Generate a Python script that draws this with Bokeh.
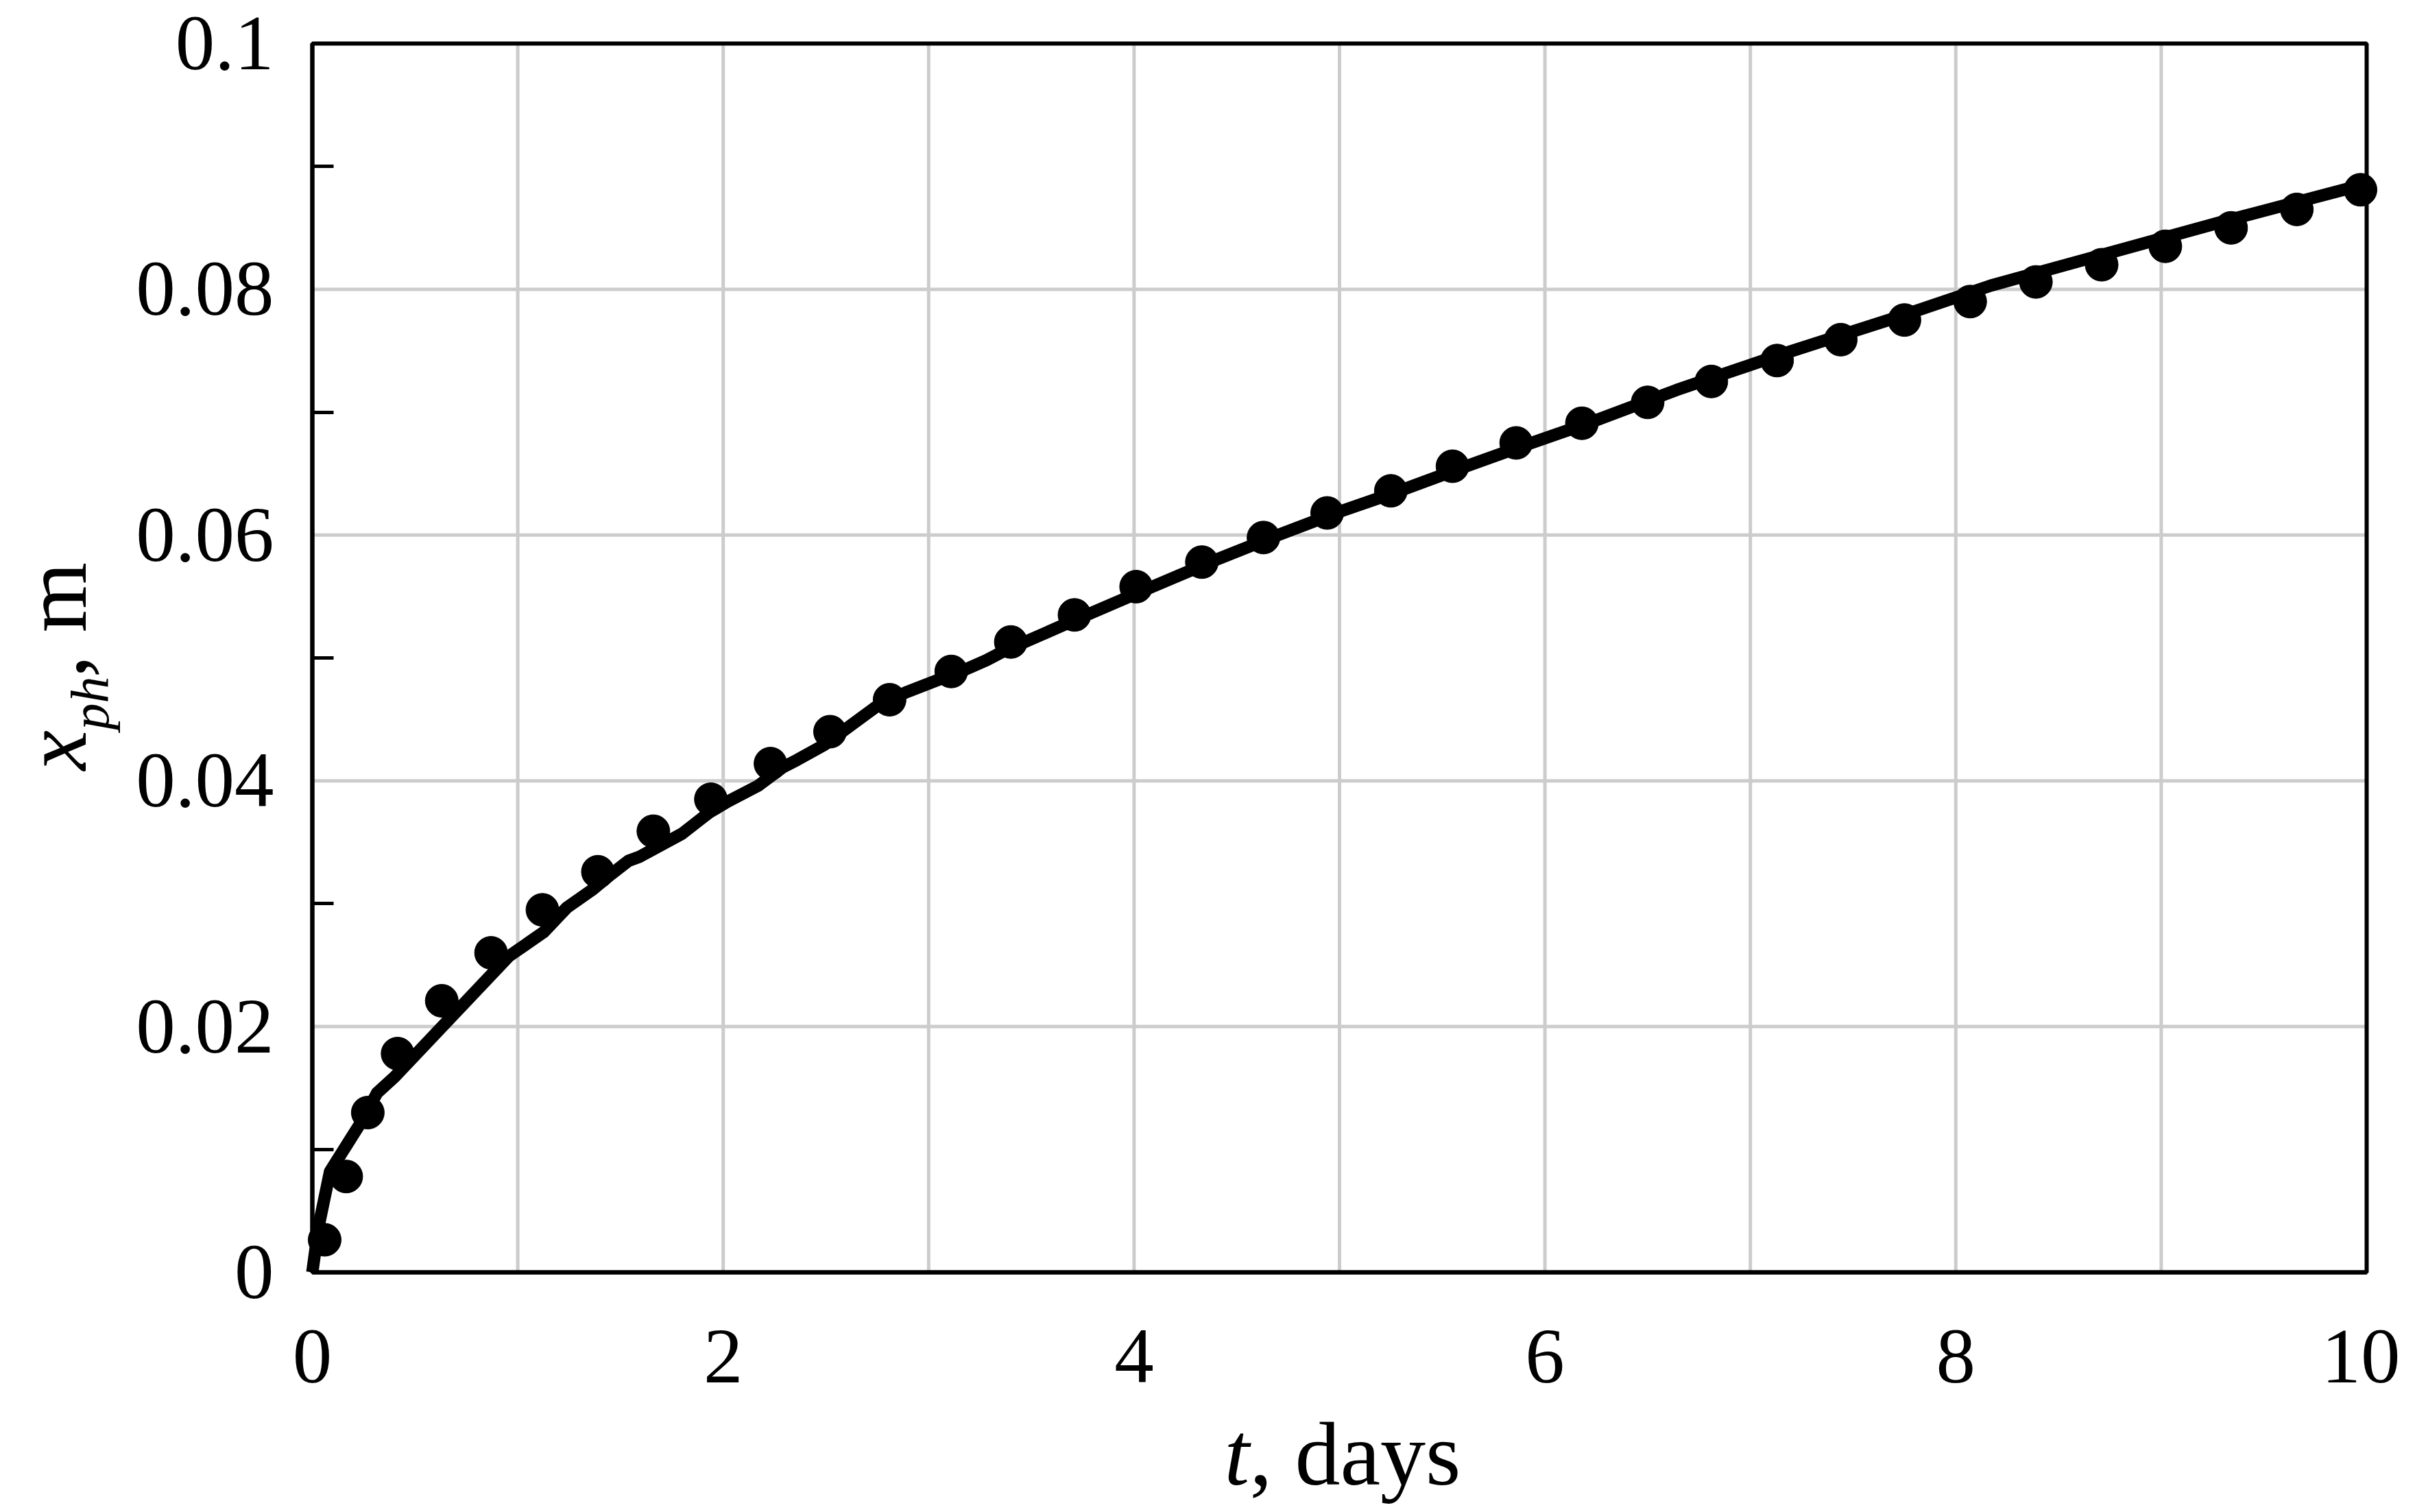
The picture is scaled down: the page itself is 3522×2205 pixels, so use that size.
import math
from bokeh.plotting import figure
from bokeh.models import Range1d, FixedTicker, Label
from bokeh.embed import file_html
from bokeh.resources import INLINE

# ---- data ----
t_pts = [0.06, 0.165, 0.27, 0.415, 0.63, 0.87, 1.12, 1.39, 1.66, 1.94, 2.23, 2.52,
         2.81, 3.11, 3.40, 3.71, 4.01, 4.33, 4.63, 4.94, 5.25, 5.55, 5.86, 6.18,
         6.50, 6.81, 7.13, 7.44, 7.75, 8.07, 8.39, 8.71, 9.02, 9.34, 9.66, 9.97]
x_pts = [0.00265, 0.0078, 0.0130, 0.0178, 0.0221, 0.0260, 0.0295, 0.0326, 0.0359,
         0.0385, 0.0414, 0.0440, 0.0466, 0.0489, 0.0513, 0.0535, 0.0558, 0.0578,
         0.0598, 0.0618, 0.0636, 0.0656, 0.0675, 0.0691, 0.0708, 0.0725, 0.0742,
         0.0759, 0.0775, 0.0790, 0.0806, 0.0820, 0.0835, 0.0850, 0.0865, 0.0881]

t_line = [0.0, 0.03, 0.086, 0.248, 0.315, 0.40, 0.955, 1.127, 1.24, 1.36, 1.455,
          1.54, 1.59, 1.80, 1.93, 2.02, 2.17, 2.29, 2.36, 2.49, 2.75, 2.89, 3.06,
          3.17, 3.28, 3.36, 3.70, 4.09, 4.40, 4.70, 5.00, 5.26, 5.60, 5.90, 6.21,
          6.64, 7.15, 7.71, 8.17, 8.69, 9.32, 9.91, 10.0]
x_line = [0.0, 0.0037, 0.0082, 0.0125, 0.0146, 0.0159, 0.0257, 0.0277, 0.0297,
          0.0311, 0.0324, 0.0335, 0.0338, 0.0357, 0.0374, 0.0383, 0.0396, 0.0411,
          0.0417, 0.0429, 0.0461, 0.0472, 0.0483, 0.0490, 0.0498, 0.0505, 0.0530,
          0.0558, 0.0580, 0.0600, 0.0619, 0.0634, 0.0655, 0.0673, 0.0691, 0.0718,
          0.0747, 0.0777, 0.0803, 0.0827, 0.0856, 0.0882, 0.0886]

x_min, x_max = 0, 10
y_min, y_max = 0, 0.1
xtick_vals = [0, 2, 4, 6, 8, 10]
xgrid_vals = [1, 2, 3, 4, 5, 6, 7, 8, 9]
ytick_vals = [0, 0.02, 0.04, 0.06, 0.08, 0.1]
ytick_labels = ["0", "0.02", "0.04", "0.06", "0.08", "0.1"]
yminor_vals = [0.01, 0.03, 0.05, 0.07, 0.09]

FONT = "Liberation Serif"

# ---- layout (pixels of the figure canvas) ----
W, H = 3500, 2196
PL, PR, PT, PB = 455, 3451, 63, 1855   # plot box edges inside the canvas
sx = (PR - PL) / (x_max - x_min)
sy = (PB - PT) / (y_max - y_min)

def fx(px):   # canvas px -> data x
    return x_min + (px - PL) / sx

def fy(py):   # canvas px (from top) -> data y
    return y_min + (PB - py) / sy

p = figure(width=W, height=H,
           x_range=Range1d(fx(0), fx(W)), y_range=Range1d(fy(H), fy(0)),
           output_backend="svg", toolbar_location=None,
           min_border=0, min_border_left=0, min_border_right=0,
           min_border_top=0, min_border_bottom=0)
p.background_fill_color = "white"
p.border_fill_color = "white"
p.outline_line_color = None
p.grid.visible = False

# axes drawn at the plot box edges
p.xaxis.fixed_location = y_min
p.yaxis.fixed_location = x_min
p.xaxis.bounds = (x_min, x_max)
p.yaxis.bounds = (y_min, y_max)
p.xaxis.ticker = FixedTicker(ticks=xtick_vals)
p.yaxis.ticker = FixedTicker(ticks=ytick_vals, minor_ticks=yminor_vals)
p.yaxis.major_label_overrides = {v: s for v, s in zip(ytick_vals, ytick_labels)}
for ax in (p.xaxis, p.yaxis):
    ax.axis_line_color = "black"
    ax.axis_line_width = 6
    ax.major_tick_line_color = None
    ax.major_tick_in = 0
    ax.major_tick_out = 0
    ax.major_label_text_font = FONT
    ax.major_label_text_font_size = "115px"
    ax.major_label_text_color = "black"
p.xaxis.minor_tick_line_color = None
p.xaxis.minor_tick_in = 0
p.xaxis.minor_tick_out = 0
p.yaxis.minor_tick_line_color = "black"
p.yaxis.minor_tick_line_width = 5
p.yaxis.minor_tick_in = 31
p.yaxis.minor_tick_out = 0
p.xaxis.major_label_standoff = 85
p.yaxis.major_label_standoff = 56

# grid lines limited to the plot box
GRID = "#cccccc"
p.segment(x0=xgrid_vals, y0=[y_min] * len(xgrid_vals),
          x1=xgrid_vals, y1=[y_max] * len(xgrid_vals),
          line_color=GRID, line_width=5)
ygrid_vals = ytick_vals[1:-1]
p.segment(x0=[x_min] * len(ygrid_vals), y0=ygrid_vals,
          x1=[x_max] * len(ygrid_vals), y1=ygrid_vals,
          line_color=GRID, line_width=5)

# plot box outline
p.quad(left=[x_min], right=[x_max], bottom=[y_min], top=[y_max],
       fill_color=None, line_color="black", line_width=6)

# series
p.line(t_line, x_line, line_color="black", line_width=18, line_join="round")
p.scatter(t_pts, x_pts, size=48, fill_color="black", line_color="black", marker="circle")

# axis titles (composed so that parts can be italic / subscript)
LAB = 132
SUB = 78
SHIFT = 0.30   # em correction of the rendered baseline

def lab(px, py, text, size, style="normal", angle=0.0):
    p.add_layout(Label(x=fx(px), y=fy(py), text=text, angle=angle,
                       text_font=FONT, text_font_size=f"{size}px",
                       text_font_style=style,
                       text_baseline="alphabetic", text_align="left",
                       text_color="black"))

xb = 2160 - SHIFT * LAB
lab(1785, xb, "t", LAB, "italic")
lab(1822, xb, ", days", LAB)

ang = math.pi / 2
lab(120 - SHIFT * LAB, 1123, "x", LAB, "italic", ang)
lab(154 - SHIFT * SUB, 1064, "ph", SUB, "italic", ang)
lab(120 - SHIFT * LAB, 988, ", m", LAB, "normal", ang)

open("out.html", "w").write(file_html(p, INLINE))
